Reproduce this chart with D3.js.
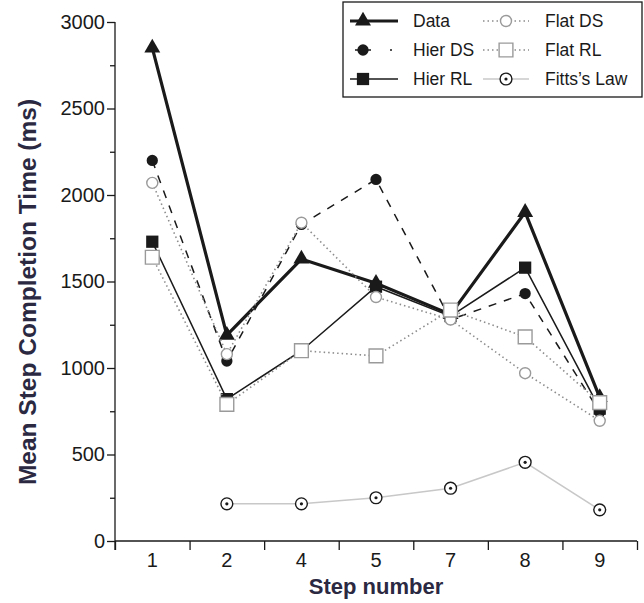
<!DOCTYPE html>
<html>
<head>
<meta charset="utf-8">
<script src="https://cdn.jsdelivr.net/npm/d3@7"></script>
<style>
  body { margin: 0; background: #fff; }
  svg { font-family: "Liberation Sans", Arial, sans-serif; }
</style>
</head>
<body>
<svg id="chart" width="644" height="603"></svg>
<script>
// step numbers on the x axis
const steps = ["1", "2", "4", "5", "7", "8", "9"];
const yTicks = [0, 500, 1000, 1500, 2000, 2500, 3000];
const yMinorTicks = [250, 750, 1250, 1750, 2250, 2750];

// mean step completion time (ms)
const dataValues   = [2850, 1190, 1630, 1490, 1310, 1900, 830];
const hierDSValues = [2200, 1040, 1830, 2090, 1280, 1430, 745];
const hierRLValues = [1730, 820, 1100, 1470, 1300, 1580, 765];
const flatDSValues = [2070, 1080, 1840, 1410, 1280, 970, 695];
const flatRLValues = [1640, 790, 1100, 1070, 1335, 1180, 800];
const fittsValues  = [null, 215, 215, 250, 305, 455, 180];

const seriesNames = ["Data", "Hier DS", "Hier RL", "Flat DS", "Flat RL", "Fitts\u2019s Law"];

const margin = { left: 115, right: 7, top: 22, bottom: 62 };
const width = 644, height = 603;

const svg = d3.select("#chart");

const x = d3.scaleBand().domain(steps).range([margin.left, width - margin.right]);
const xEdge = d3.scaleLinear().domain([0, steps.length]).range([margin.left, width - margin.right]);
const y = d3.scaleLinear().domain([0, 3000]).range([height - margin.bottom, margin.top]);
const cx = s => x(s) + x.bandwidth() / 2;

// series styling
const series = [
  { name: seriesNames[0], values: dataValues, stroke: "#1a1a1a", width: 3.2, dash: null,
    symbol: d3.symbolTriangle, size: 110, fill: "#1a1a1a", mstroke: "none" },
  { name: seriesNames[1], values: hierDSValues, stroke: "#1a1a1a", width: 1.5, dash: "8,8",
    legendDash: "16,19,2", symbol: d3.symbolCircle, size: 100, fill: "#1a1a1a", mstroke: "none" },
  { name: seriesNames[2], values: hierRLValues, stroke: "#1a1a1a", width: 1.5, dash: null,
    symbol: d3.symbolSquare, size: 150, fill: "#1a1a1a", mstroke: "none" },
  { name: seriesNames[3], values: flatDSValues, stroke: "#8c8c8c", width: 1.6, dash: "1.5,3",
    symbol: d3.symbolCircle, size: 95, fill: "#fff", mstroke: "#9a9a9a" },
  { name: seriesNames[4], values: flatRLValues, stroke: "#8c8c8c", width: 1.6, dash: "1.5,3",
    symbol: d3.symbolSquare, size: 190, fill: "#fff", mstroke: "#9a9a9a" },
  { name: seriesNames[5], values: fittsValues, stroke: "#c8c8c8", width: 1.6, dash: null,
    symbol: d3.symbolCircle, size: 110, fill: "#fff", mstroke: "#1a1a1a", dot: true }
];

// axes
const yAxis = svg.append("g")
  .attr("transform", `translate(${margin.left},0)`)
  .call(d3.axisLeft(y).tickValues(yTicks).tickSize(8).tickPadding(2).tickFormat(d3.format("d")));
svg.append("g")
  .attr("transform", `translate(${margin.left},0)`)
  .call(d3.axisLeft(y).tickValues(yMinorTicks).tickSize(5).tickFormat(""))
  .call(g => g.select(".domain").remove());
yAxis.select(".domain").attr("d", `M0,${y(3000)}V${y(0) + 9}`);

const xAxis = svg.append("g")
  .attr("transform", `translate(0,${y(0)})`)
  .call(d3.axisBottom(xEdge).tickValues(d3.range(steps.length + 1)).tickSize(9).tickFormat(""));
xAxis.select(".domain").attr("d", `M${margin.left},0H${width - margin.right}`);
svg.append("g")
  .attr("transform", `translate(0,${y(0)})`)
  .call(d3.axisBottom(x).tickSize(0).tickPadding(12))
  .call(g => g.select(".domain").remove());

svg.selectAll(".domain, .tick line").attr("stroke", "#1a1a1a").attr("stroke-width", 1.3);
svg.selectAll(".tick text").attr("font-size", 20).attr("fill", "#1a1a1a")
  .attr("font-family", "Liberation Sans, Arial, sans-serif");

// axis titles
svg.append("text")
  .attr("x", (margin.left + width - margin.right) / 2).attr("y", 594)
  .attr("text-anchor", "middle").attr("font-size", 22).attr("font-weight", "bold")
  .attr("fill", "#2b2942").text("Step number");
svg.append("text")
  .attr("transform", `translate(36,292) rotate(-90)`)
  .attr("text-anchor", "middle").attr("font-size", 24.5).attr("font-weight", "bold")
  .attr("fill", "#2b2942").text("Mean Step Completion Time (ms)");

// lines and markers
const line = d3.line()
  .defined(d => d.v != null)
  .x(d => cx(d.s))
  .y(d => y(d.v));

function drawMarker(g, s, px, py) {
  g.append("path")
    .attr("transform", `translate(${px},${py})`)
    .attr("d", d3.symbol(s.symbol, s.size)())
    .attr("fill", s.fill)
    .attr("stroke", s.mstroke)
    .attr("stroke-width", 1.4);
  if (s.dot) {
    g.append("circle").attr("cx", px).attr("cy", py).attr("r", 1.6).attr("fill", "#1a1a1a");
  }
}

series.forEach(s => {
  const pts = steps.map((st, i) => ({ s: st, v: s.values[i] }));
  const g = svg.append("g");
  g.append("path")
    .datum(pts)
    .attr("d", line)
    .attr("fill", "none")
    .attr("stroke", s.stroke)
    .attr("stroke-width", s.width)
    .attr("stroke-dasharray", s.dash);
  pts.filter(d => d.v != null).forEach(d => drawMarker(g, s, cx(d.s), y(d.v)));
});

// legend
const legend = svg.append("g");
legend.append("rect")
  .attr("x", 343).attr("y", 2).attr("width", 299).attr("height", 95)
  .attr("fill", "#fff").attr("stroke", "#1a1a1a").attr("stroke-width", 1.3);

const rowY = [21, 50, 79];
series.forEach((s, i) => {
  const col = Math.floor(i / 3), row = i % 3;
  let x0 = col === 0 ? 350 : 483;
  const x1 = col === 0 ? 398 : 529;
  if (s.legendDash) x0 = 355;
  const yy = rowY[row];
  legend.append("line")
    .attr("x1", x0).attr("x2", s.legendDash ? 392 : x1).attr("y1", yy).attr("y2", yy)
    .attr("stroke", s.stroke).attr("stroke-width", s.width)
    .attr("stroke-dasharray", s.legendDash || s.dash);
  drawMarker(legend, s, col === 0 ? 363 : (x0 + x1) / 2, yy);
  legend.append("text")
    .attr("x", col === 0 ? 413 : 545).attr("y", yy)
    .attr("dy", "0.35em")
    .attr("font-size", 17.5).attr("fill", "#1a1a1a")
    .text(s.name);
});
</script>
</body>
</html>
